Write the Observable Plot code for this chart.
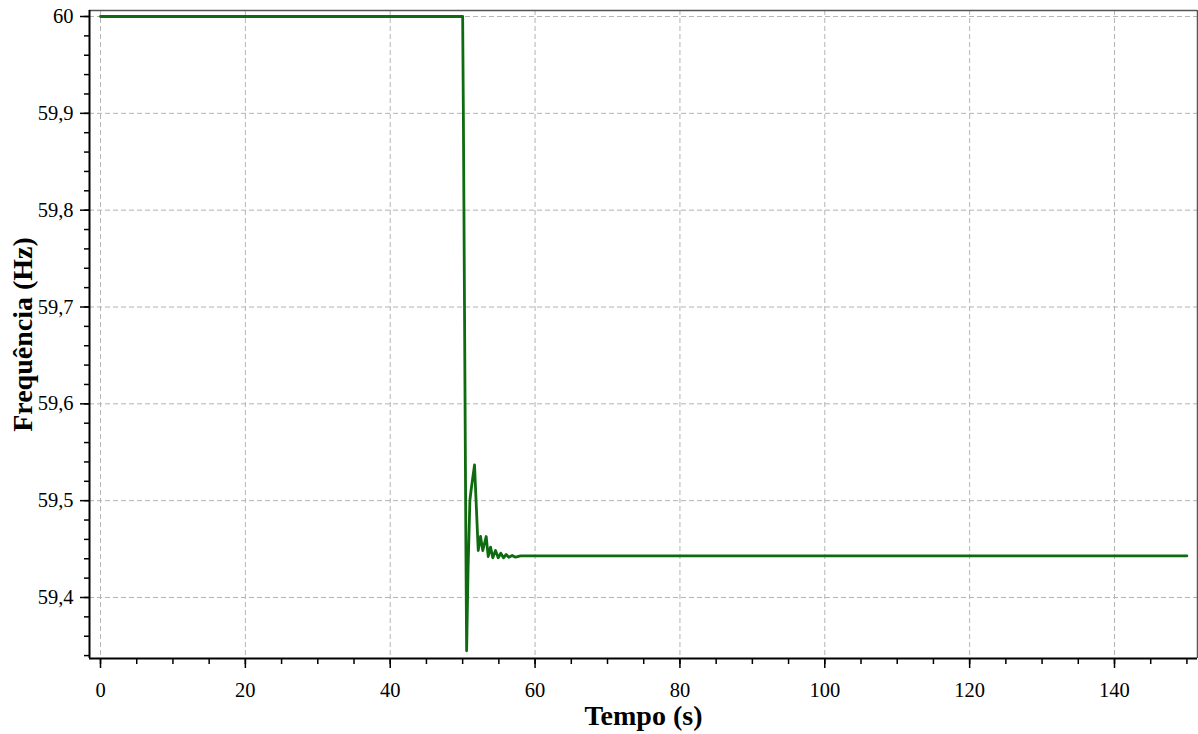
<!DOCTYPE html>
<html>
<head>
<meta charset="utf-8">
<script src="https://cdn.jsdelivr.net/npm/d3@7"></script>
<script src="https://cdn.jsdelivr.net/npm/@observablehq/plot@0.6"></script>
<style>
  html, body { margin: 0; padding: 0; background: #fff; }
  #chart svg { display: block; }
</style>
</head>
<body>
<div id="chart"></div>
<script>
// Data
const time = [0, 50, 50.1, 50.45, 50.55, 50.75, 51.0, 51.15, 51.64, 52.15, 52.47, 52.78, 53.25, 53.53, 53.85, 54.16, 54.54, 54.91, 55.27, 55.64, 56.01, 56.37, 56.84, 57.3, 58, 150];
const freq = [60, 60, 59.9, 59.45, 59.345, 59.43, 59.5, 59.51, 59.537, 59.4485, 59.463, 59.4485, 59.463, 59.4423, 59.452, 59.441, 59.4485, 59.441, 59.4457, 59.441, 59.4444, 59.4416, 59.4434, 59.4416, 59.443, 59.443];

const xTicks = [0, 20, 40, 60, 80, 100, 120, 140];
const xMinorTicks = d3.range(0, 151, 5);
const yTicks = [59.4, 59.5, 59.6, 59.7, 59.8, 59.9, 60];
const yMinorTicks = d3.range(59.34, 60.001, 0.02).map(v => Math.round(v * 100) / 100);

const xLabel = "Tempo (s)";
const yLabel = "Frequência (Hz)";

const data = time.map((t, i) => ({t, f: freq[i]}));

const xDomain = [-1.52, 151.46];
const yDomain = [59.337, 60.0062];

const fmtY = d => String(Math.round(d * 10) / 10).replace(".", ",");

const font = "'Liberation Serif', 'Times New Roman', serif";

const chart = Plot.plot({
  width: 1198,
  height: 734,
  marginLeft: 89,
  marginRight: 1,
  marginTop: 10,
  marginBottom: 76,
  style: {fontFamily: font, fontSize: "20px", color: "#000", background: "#fff"},
  x: {domain: xDomain, label: null},
  y: {domain: yDomain, label: null},
  marks: [
    Plot.gridX(xTicks, {stroke: "#b4b4b4", strokeOpacity: 1, strokeDasharray: "5,3"}),
    Plot.gridY(yTicks, {stroke: "#b4b4b4", strokeOpacity: 1, strokeDasharray: "5,3"}),
    Plot.axisX(xMinorTicks, {tickSize: 6, tickFormat: () => "", stroke: "#000", strokeWidth: 1.5}),
    Plot.axisX(xTicks, {tickSize: 10, tickPadding: 14, stroke: "#000", strokeWidth: 1.5, fill: "#000", fontSize: 20.5, label: null}),
    Plot.axisY(yMinorTicks, {tickSize: 5, tickFormat: () => "", stroke: "#000", strokeWidth: 1.5}),
    Plot.axisY(yTicks, {tickSize: 9, tickPadding: 7, tickFormat: fmtY, stroke: "#000", strokeWidth: 1.5, fill: "#000", fontSize: 20.5, label: null}),
    Plot.ruleY([yDomain[1]], {stroke: "#555", strokeWidth: 1.5}),
    Plot.ruleX([xDomain[1]], {stroke: "#555", strokeWidth: 1.5}),
    Plot.ruleY([yDomain[0]], {stroke: "#000", strokeWidth: 2}),
    Plot.ruleX([xDomain[0]], {stroke: "#000", strokeWidth: 2}),
    Plot.line(data, {x: "t", y: "f", stroke: "#0f6b0f", strokeWidth: 2.8, strokeLinejoin: "round"}),
    Plot.text([xLabel], {frameAnchor: "bottom", dy: 58, fontSize: 28, fontWeight: "bold", fill: "#000", lineAnchor: "middle", textAnchor: "middle"}),
    Plot.text([yLabel], {frameAnchor: "left", dx: -66, rotate: -90, fontSize: 28, fontWeight: "bold", fill: "#000", lineAnchor: "middle", textAnchor: "middle"})
  ]
});
document.getElementById("chart").appendChild(chart);
</script>
</body>
</html>
